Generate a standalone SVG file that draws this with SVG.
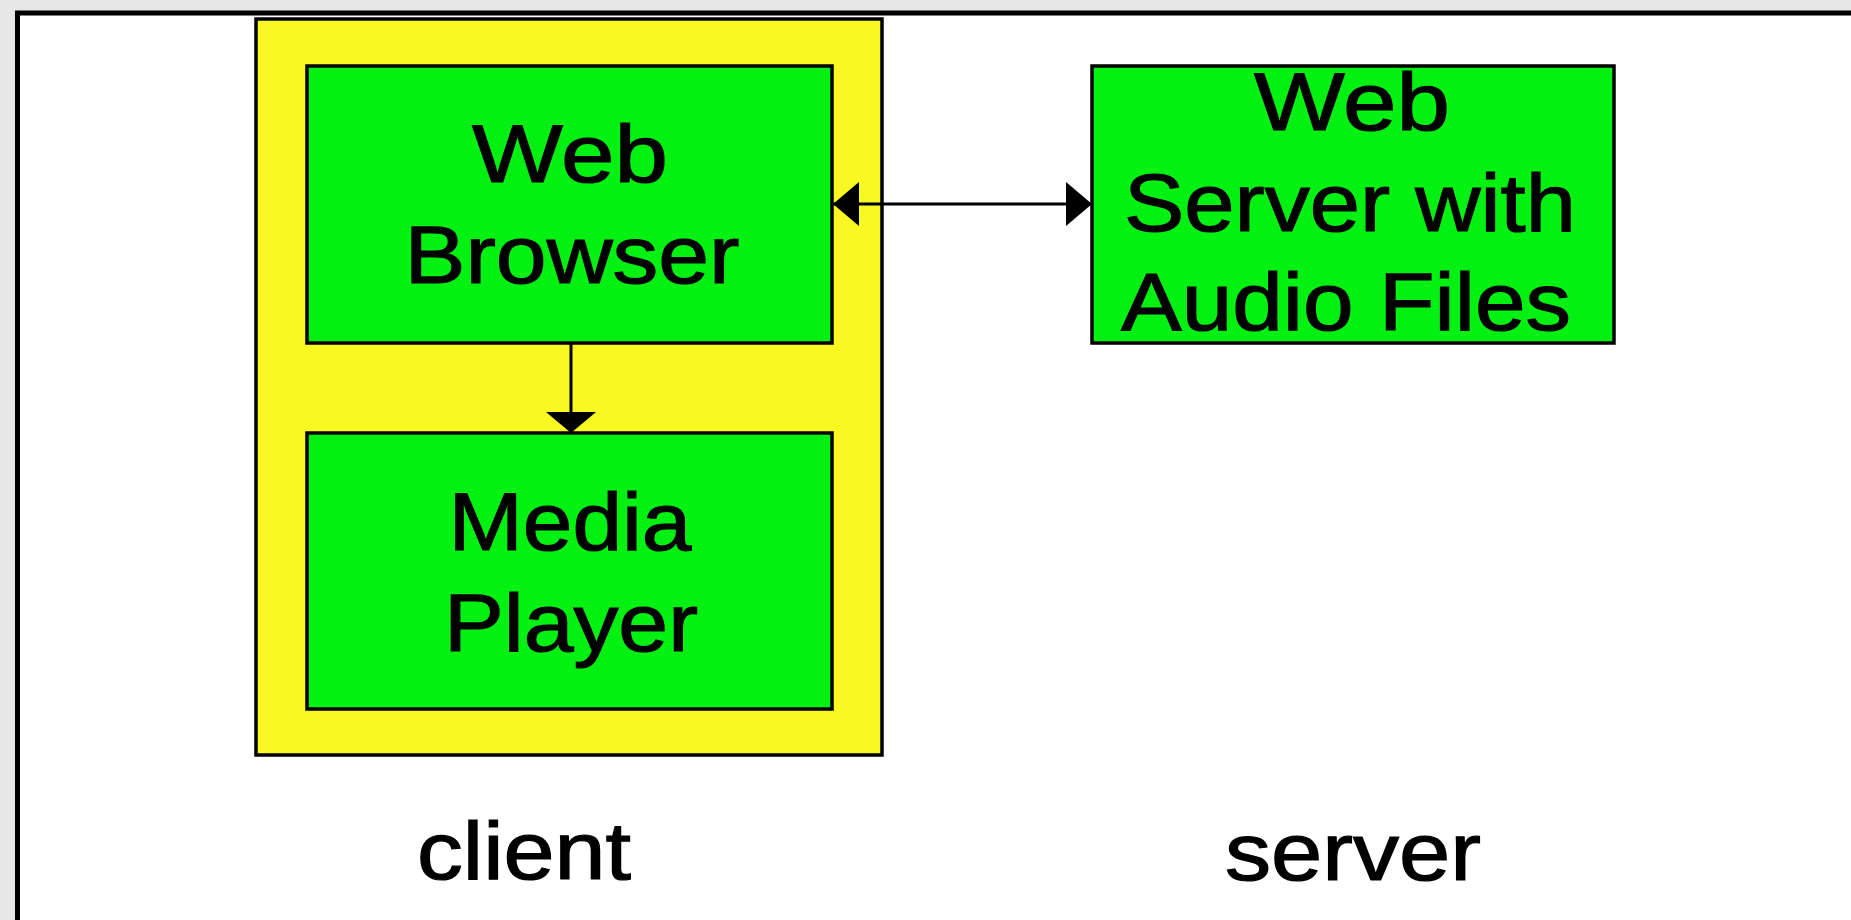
<svg xmlns="http://www.w3.org/2000/svg" width="1851" height="920" viewBox="0 0 1851 920">
<style>
.box{fill:#03f013;stroke:#000;stroke-width:3.5}
.client{fill:#faf822;stroke:#000;stroke-width:3.5}
text{font-family:"Liberation Sans",Arial,sans-serif;font-size:81px;fill:#000;stroke:#000;stroke-width:1.2;text-anchor:middle}
.conn{stroke:#000;stroke-width:3;fill:none}
</style>
<defs>
<marker id="arrowH" markerUnits="userSpaceOnUse" markerWidth="26" markerHeight="44" refX="26" refY="22" orient="auto-start-reverse"><path d="M0,0 L26,22 L0,44 z" fill="#000"/></marker>
<marker id="arrowV" markerUnits="userSpaceOnUse" markerWidth="21" markerHeight="50" refX="21" refY="25" orient="auto"><path d="M0,0 L21,25 L0,50 z" fill="#000"/></marker>
</defs>
<rect x="0" y="0" width="1851" height="920" fill="#e7e7e7"/>
<rect x="17.5" y="13" width="1900" height="1000" fill="#fff" stroke="#000" stroke-width="5"/>
<g id="client-container">
<rect class="client" x="256" y="19" width="626" height="736"/>
</g>
<g id="web-browser">
<rect class="box" x="307" y="66" width="525" height="277"/>
<text x="570" y="182" textLength="196" lengthAdjust="spacingAndGlyphs">Web</text>
<text x="572" y="283" textLength="335" lengthAdjust="spacingAndGlyphs">Browser</text>
</g>
<g id="media-player">
<rect class="box" x="307" y="433" width="525" height="276"/>
<text x="570" y="550" textLength="243" lengthAdjust="spacingAndGlyphs">Media</text>
<text x="571" y="651" textLength="254" lengthAdjust="spacingAndGlyphs">Player</text>
</g>
<g id="web-server">
<rect class="box" x="1092" y="66" width="522" height="277"/>
<text x="1352" y="130" textLength="196" lengthAdjust="spacingAndGlyphs">Web</text>
<text x="1350" y="231" textLength="452" lengthAdjust="spacingAndGlyphs">Server with</text>
<text x="1346" y="330" textLength="450" lengthAdjust="spacingAndGlyphs">Audio Files</text>
</g>
<g id="label-client">
<text x="524" y="879" textLength="214" lengthAdjust="spacingAndGlyphs">client</text>
</g>
<g id="label-server">
<text x="1353" y="880" textLength="256" lengthAdjust="spacingAndGlyphs">server</text>
</g>
<g id="connectors">
<line class="conn" x1="833" y1="204" x2="1092" y2="204" marker-start="url(#arrowH)" marker-end="url(#arrowH)"/>
<line class="conn" x1="571" y1="343" x2="571" y2="433" marker-end="url(#arrowV)"/>
</g>
</svg>
